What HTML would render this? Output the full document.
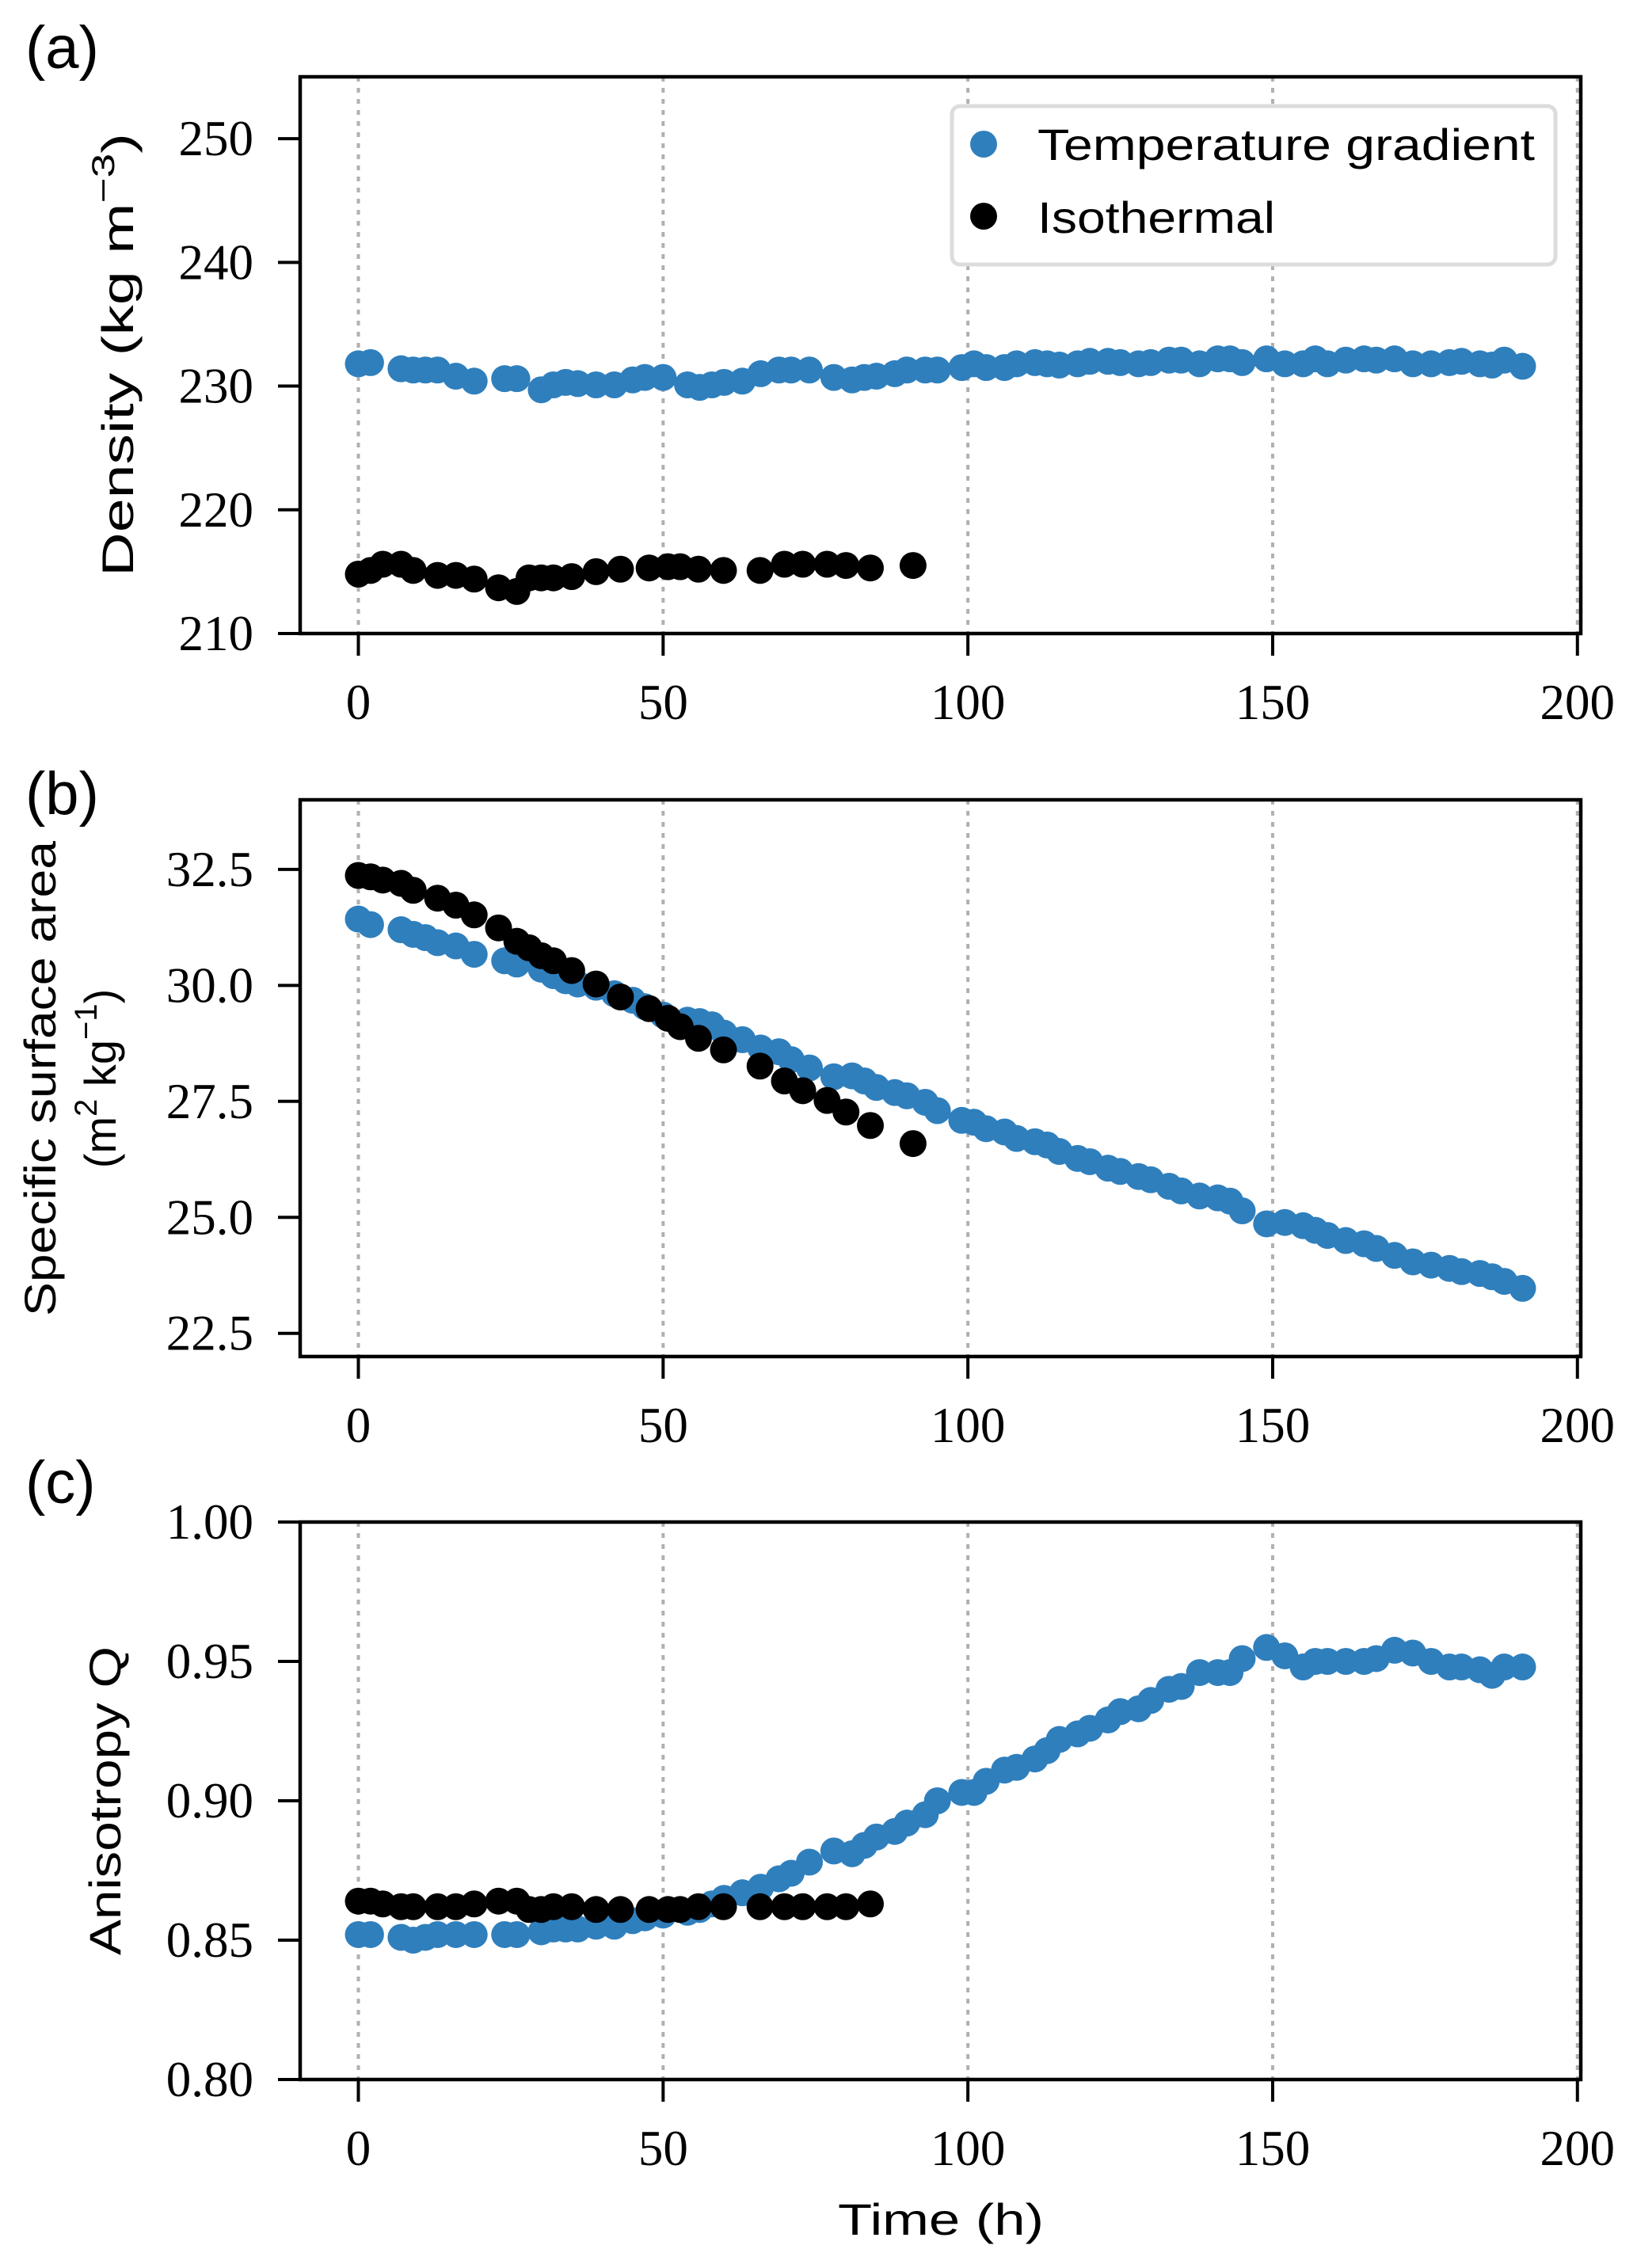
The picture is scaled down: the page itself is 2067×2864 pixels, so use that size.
<!DOCTYPE html>
<html><head><meta charset="utf-8"><style>
html,body{margin:0;padding:0;background:#fff;}
svg{display:block;}
.tick{font-family:"Liberation Serif",serif;font-size:63px;fill:#000;}
.lab{font-family:"Liberation Sans",sans-serif;font-size:56px;fill:#000;}
</style></head><body>
<svg id="fig" width="2067" height="2864" viewBox="0 0 2067 2864" xmlns="http://www.w3.org/2000/svg"></svg>
<script>
// ---- data ----
const tgTime = [0,2,7,9,11,13,16,19,24,26,30,32,34,36,39,42,45,47,50,54,56,58,60,63,66,69,71,74,78,81,83,85,88,90,93,95,99,101,103,106,108,111,113,115,118,120,123,125,128,130,133,135,138,141,143,145,149,152,155,157,159,162,165,167,170,173,176,179,181,184,186,188,191];
const isoTime = [0,2,4,7,9,13,16,19,23,26,28,30,32,35,39,43,47.7,50.8,52.8,55.8,59.9,65.9,69.9,72.9,76.9,80,84,91];
const isoTimeC = [0,2,4,7,9,13,16,19,23,26,28,30,32,35,39,43,47.7,50.8,52.8,55.8,59.9,65.9,69.9,72.9,76.9,80,84];
const densityTG = [231.8,231.9,231.4,231.3,231.3,231.3,230.8,230.4,230.6,230.6,229.7,230.1,230.3,230.2,230.1,230.1,230.5,230.7,230.7,230.1,229.9,230.1,230.3,230.4,231.0,231.3,231.3,231.3,230.7,230.5,230.7,230.8,231.0,231.3,231.3,231.3,231.5,231.8,231.5,231.5,231.8,231.9,231.8,231.7,231.8,232.0,232.0,231.9,231.8,231.9,232.1,232.1,231.8,232.2,232.2,231.9,232.2,231.8,231.8,232.2,231.8,232.1,232.2,232.1,232.2,231.8,231.8,231.9,232.0,231.8,231.7,232.1,231.6];
const densityIso = [214.8,215.1,215.6,215.6,215.1,214.7,214.7,214.4,213.7,213.4,214.5,214.5,214.5,214.6,215.0,215.2,215.3,215.4,215.4,215.2,215.1,215.1,215.6,215.6,215.6,215.5,215.3,215.5];
const ssaTG = [31.43,31.31,31.20,31.10,31.03,30.92,30.85,30.67,30.53,30.46,30.35,30.21,30.10,30.03,29.96,29.82,29.68,29.54,29.36,29.25,29.22,29.15,28.97,28.83,28.65,28.57,28.40,28.22,28.03,28.05,27.94,27.80,27.69,27.62,27.48,27.30,27.09,27.05,26.91,26.84,26.70,26.63,26.56,26.42,26.27,26.20,26.06,25.99,25.88,25.81,25.67,25.57,25.46,25.42,25.35,25.14,24.86,24.89,24.82,24.72,24.61,24.50,24.43,24.33,24.18,24.04,23.97,23.90,23.83,23.79,23.72,23.62,23.47];
const ssaIso = [32.37,32.34,32.27,32.20,32.05,31.88,31.73,31.52,31.24,30.95,30.81,30.64,30.53,30.32,30.03,29.75,29.50,29.29,29.11,28.86,28.61,28.26,27.94,27.73,27.52,27.27,26.98,26.59];
const anisoTG = [0.852,0.852,0.851,0.850,0.851,0.852,0.852,0.852,0.852,0.852,0.853,0.854,0.854,0.854,0.855,0.855,0.857,0.858,0.859,0.860,0.861,0.863,0.865,0.867,0.869,0.872,0.874,0.878,0.882,0.881,0.884,0.887,0.889,0.892,0.895,0.900,0.903,0.903,0.907,0.911,0.912,0.915,0.918,0.922,0.924,0.926,0.929,0.932,0.933,0.936,0.940,0.941,0.946,0.946,0.946,0.951,0.955,0.952,0.948,0.950,0.950,0.950,0.950,0.951,0.954,0.953,0.950,0.948,0.948,0.947,0.945,0.948,0.948];
const anisoIso = [0.864,0.864,0.863,0.862,0.862,0.862,0.862,0.863,0.864,0.864,0.861,0.861,0.862,0.862,0.861,0.861,0.861,0.861,0.861,0.862,0.862,0.862,0.862,0.862,0.862,0.862,0.863];
const xTicks = [0,50,100,150,200];
const yTicksA = [210,220,230,240,250];
const yTicksALabels = ["210","220","230","240","250"];
const yTicksB = [22.5,25,27.5,30,32.5];
const yTicksBLabels = ["22.5","25.0","27.5","30.0","32.5"];
const yTicksC = [0.80,0.85,0.90,0.95,1.00];
const yTicksCLabels = ["0.80","0.85","0.90","0.95","1.00"];

// ---- layout ----
const NS = "http://www.w3.org/2000/svg";
const svg = document.getElementById('fig');
const L = 379, R = 1996, XMIN = -9.55, XMAX = 200.55;
const BLUE = "#2f7fbd";
function sx(v){ return L + (v - XMIN) / (XMAX - XMIN) * (R - L); }
function mk(tag, attrs, parent){
  const e = document.createElementNS(NS, tag);
  for (const k in attrs) e.setAttribute(k, attrs[k]);
  (parent || svg).appendChild(e);
  return e;
}

function panel(name, top, bot, ymin, ymax, yt, ytl, series){
  const g = mk('g', {});
  
  
  const sy = v => bot - (v - ymin) / (ymax - ymin) * (bot - top);
  xTicks.forEach(t => {
    const ln = mk('line', {x1: sx(t), x2: sx(t), y1: top, y2: bot, stroke: '#b0b0b0', 'stroke-width': 4, 'stroke-dasharray': '6 8'}, g);
    
    
  });
  series.forEach(s => {
    const sg = mk('g', {}, g);
    
    
    s.x.forEach((xv, i) => {
      const c = mk('circle', {cx: sx(xv), cy: sy(s.y[i]), r: 17, fill: s.color}, sg);
      
      
    });
  });
  const fr = mk('rect', {x: L, y: top, width: R - L, height: bot - top, fill: 'none', stroke: '#000', 'stroke-width': 4.5}, g);
  
  
  xTicks.forEach(t => {
    const tk = mk('line', {x1: sx(t), x2: sx(t), y1: bot, y2: bot + 28, stroke: '#000', 'stroke-width': 4}, g);
    
    
    const tx = mk('text', {x: sx(t), y: bot + 108, 'text-anchor': 'middle', class: 'tick'}, g);
    tx.textContent = String(t);
    
    
  });
  yt.forEach((t, i) => {
    const tk = mk('line', {x1: L - 28, x2: L, y1: sy(t), y2: sy(t), stroke: '#000', 'stroke-width': 4}, g);
    
    
    const tx = mk('text', {x: 320, y: sy(t) + 21, 'text-anchor': 'end', class: 'tick'}, g);
    tx.textContent = ytl[i];
    
    
  });
  return g;
}

panel('density-panel', 97, 800, 210, 255, yTicksA, yTicksALabels, [
  {name: 'temperature-gradient-series', x: tgTime, y: densityTG, color: BLUE},
  {name: 'isothermal-series', x: isoTime, y: densityIso, color: '#000'}]);
panel('ssa-panel', 1010, 1713, 22.0, 34.0, yTicksB, yTicksBLabels, [
  {name: 'temperature-gradient-series', x: tgTime, y: ssaTG, color: BLUE},
  {name: 'isothermal-series', x: isoTime, y: ssaIso, color: '#000'}]);
panel('anisotropy-panel', 1922, 2626, 0.80, 1.00, yTicksC, yTicksCLabels, [
  {name: 'temperature-gradient-series', x: tgTime, y: anisoTG, color: BLUE},
  {name: 'isothermal-series', x: isoTimeC, y: anisoIso, color: '#000'}]);
</script>
<svg style="position:absolute;left:0;top:0" width="2067" height="2864" xmlns="http://www.w3.org/2000/svg">
  <g>
    <rect x="1202" y="134" width="762" height="200" rx="10" fill="#fff" stroke="#dcdcdc" stroke-width="5"/>
    <circle cx="1242" cy="182" r="17" fill="#2f7fbd"/>
    <text class="lab" x="1310" y="202" textLength="628" lengthAdjust="spacingAndGlyphs">Temperature gradient</text>
    <circle cx="1242" cy="273" r="17" fill="#000"/>
    <text class="lab" x="1310" y="294" textLength="300" lengthAdjust="spacingAndGlyphs">Isothermal</text>
  </g>
  <text class="lab" x="32" y="86" style="font-size:76px">(a)</text>
  <text class="lab" x="32" y="1028" style="font-size:76px">(b)</text>
  <text class="lab" x="32" y="1898" style="font-size:76px">(c)</text>
  <text class="lab" transform="translate(168,448) rotate(-90)" text-anchor="middle" textLength="560" lengthAdjust="spacingAndGlyphs">Density (kg m<tspan font-size="40" dy="-24">−3</tspan><tspan dy="24">)</tspan></text>
  <text class="lab" transform="translate(70,1362) rotate(-90)" text-anchor="middle" textLength="600" lengthAdjust="spacingAndGlyphs">Specific surface area</text>
  <text class="lab" transform="translate(146,1362) rotate(-90)" text-anchor="middle">(m<tspan font-size="40" dy="-24">2</tspan><tspan dy="24"> kg</tspan><tspan font-size="40" dy="-24">−1</tspan><tspan dy="24">)</tspan></text>
  <text class="lab" transform="translate(152,2274) rotate(-90)" text-anchor="middle" textLength="390" lengthAdjust="spacingAndGlyphs">Anisotropy Q</text>
  <text class="lab" x="1188" y="2822" text-anchor="middle" textLength="260" lengthAdjust="spacingAndGlyphs">Time (h)</text>
</svg>
</body></html>
